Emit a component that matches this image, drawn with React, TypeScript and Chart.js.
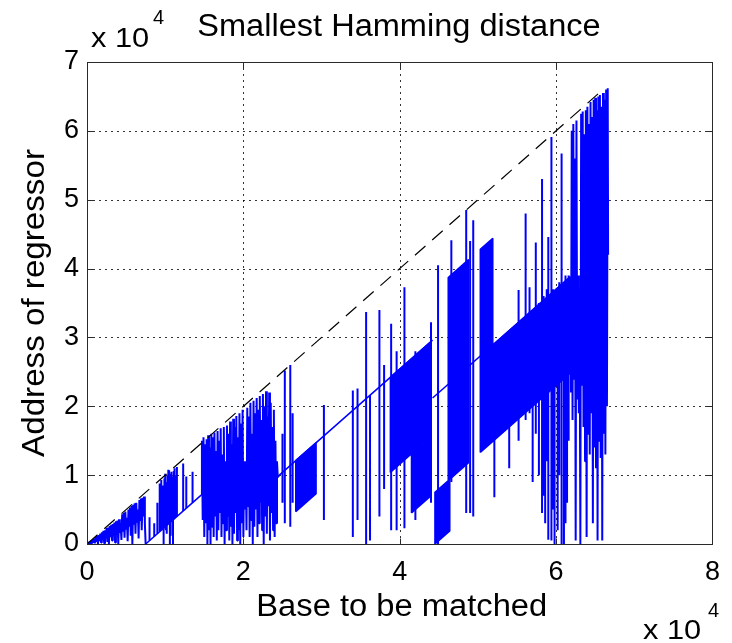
import React, { useEffect, useRef } from "react";
import { Chart, registerables } from "chart.js";

Chart.register(...registerables);

// All values are in units of 10^4.

// Axis ranges and tick steps
const xRange = [0, 8];
const yRange = [0, 7];
const xStep = 2;
const yStep = 1;

// Identity reference line (address == base)
const refX = [0, 6.6];
const refY = [0, 6.6];

// Diagonal runs where the address follows the base with a fixed lag
const runX0 = [0.75, 2.46, 4.42];
const runX1 = [1.46, 4.42, 6.18];
const runY0 = [0.0, 1.0, 2.12];
const runY1 = [0.71, 2.96, 3.88];

// Densely oscillating stretches, drawn as solid bands between two lag lines
const bandX0 = [2.67, 3.88, 4.15, 4.45, 4.62, 5.03, 5.19];
const bandX1 = [2.93, 4.39, 4.39, 4.64, 4.88, 5.19, 6.18];
const bandTop0 = [1.21, 2.42, 1.31, 0.75, 3.87, 4.28, 2.89];
const bandTop1 = [1.47, 2.93, 1.55, 0.94, 4.13, 4.44, 3.88];
const bandBot0 = [0.47, 1.04, 0.45, 0.0, 0.92, 1.33, 1.49];
const bandBot1 = [0.73, 1.55, 0.69, 0.19, 1.18, 1.49, 2.48];

// Early segment: base 0 .. 0.75
const trace1X = [
  0.0, 0.01, 0.02, 0.03, 0.04, 0.05, 0.06, 0.07, 0.08, 0.09,
  0.1, 0.11, 0.12, 0.13, 0.14, 0.15, 0.16, 0.17, 0.18, 0.19,
  0.2, 0.21, 0.22, 0.23, 0.24, 0.25, 0.26, 0.27, 0.28, 0.29,
  0.3, 0.31, 0.32, 0.33, 0.34, 0.35, 0.36, 0.37, 0.38, 0.39,
  0.4, 0.41, 0.42, 0.43, 0.44, 0.45, 0.46, 0.47, 0.48, 0.49,
  0.5, 0.51, 0.52, 0.53, 0.54, 0.55, 0.56, 0.57, 0.58, 0.59,
  0.6, 0.61, 0.62, 0.63, 0.64, 0.65, 0.66, 0.67, 0.68, 0.69,
  0.7, 0.71, 0.72, 0.73, 0.74, 0.75,
];
const trace1Y = [
  0.0, 0.01, 0.0, 0.03, 0.01, 0.05, 0.0, 0.06, 0.02, 0.08,
  0.01, 0.1, 0.03, 0.12, 0.0, 0.13, 0.04, 0.15, 0.02, 0.17,
  0.06, 0.19, 0.01, 0.2, 0.08, 0.23, 0.03, 0.24, 0.0, 0.26,
  0.1, 0.28, 0.05, 0.29, 0.12, 0.31, 0.02, 0.33, 0.14, 0.34,
  0.0, 0.36, 0.16, 0.3, 0.06, 0.43, 0.18, 0.45, 0.09, 0.47,
  0.22, 0.38, 0.04, 0.5, 0.25, 0.53, 0.12, 0.55, 0.0, 0.57,
  0.28, 0.59, 0.15, 0.6, 0.32, 0.5, 0.08, 0.64, 0.35, 0.66,
  0.2, 0.67, 0.4, 0.69, 0.3, 0.0,
];

// Second segment: base 1.46 .. 2.46
const trace2X = [
  1.46, 1.47, 1.48, 1.49, 1.5, 1.51, 1.52, 1.53, 1.54, 1.55,
  1.56, 1.57, 1.58, 1.59, 1.6, 1.61, 1.62, 1.63, 1.64, 1.65,
  1.66, 1.67, 1.68, 1.69, 1.7, 1.71, 1.72, 1.73, 1.74, 1.75,
  1.76, 1.77, 1.78, 1.79, 1.8, 1.81, 1.82, 1.83, 1.84, 1.85,
  1.86, 1.87, 1.88, 1.89, 1.9, 1.91, 1.92, 1.93, 1.94, 1.95,
  1.96, 1.97, 1.98, 1.99, 2.0, 2.01, 2.02, 2.03, 2.04, 2.05,
  2.06, 2.07, 2.08, 2.09, 2.1, 2.11, 2.12, 2.13, 2.14, 2.15,
  2.16, 2.17, 2.18, 2.19, 2.2, 2.21, 2.22, 2.23, 2.24, 2.25,
  2.26, 2.27, 2.28, 2.29, 2.3, 2.31, 2.32, 2.33, 2.34, 2.35,
  2.36, 2.37, 2.38, 2.39, 2.4, 2.41, 2.42, 2.43, 2.44, 2.46,
];
const trace2Y = [
  0.71, 1.5, 0.35, 1.55, 0.1, 1.45, 0.3, 1.52, 0.0, 1.58,
  0.2, 1.4, 0.0, 1.6, 0.25, 1.55, 0.1, 1.62, 0.4, 1.35,
  0.05, 1.64, 0.2, 1.5, 0.45, 1.68, 0.1, 1.3, 0.3, 1.7,
  0.0, 1.2, 0.2, 1.72, 0.4, 1.6, 0.05, 1.78, 0.25, 1.45,
  0.0, 1.82, 0.15, 1.7, 0.45, 1.86, 0.05, 1.55, 0.2, 1.9,
  0.0, 1.75, 0.3, 1.95, 0.1, 1.2, 0.5, 1.1, 0.2, 1.98,
  0.55, 1.85, 0.1, 2.05, 0.35, 1.6, 0.0, 2.08, 0.25, 1.9,
  0.5, 2.12, 0.1, 1.95, 0.3, 2.15, 0.6, 1.8, 0.2, 2.18,
  0.0, 2.0, 0.4, 2.22, 0.15, 1.85, 0.55, 2.2, 0.05, 2.05,
  0.45, 1.7, 0.2, 1.95, 0.1, 1.5, 0.3, 1.2, 0.97, 1.0,
];

// Final segment: base 6.18 .. 6.66
const trace3X = [
  6.18, 6.19, 6.2, 6.21, 6.22, 6.23, 6.24, 6.25, 6.26, 6.27,
  6.28, 6.29, 6.3, 6.31, 6.32, 6.33, 6.34, 6.35, 6.36, 6.37,
  6.38, 6.39, 6.4, 6.41, 6.42, 6.43, 6.44, 6.45, 6.46, 6.47,
  6.48, 6.49, 6.5, 6.51, 6.52, 6.53, 6.54, 6.55, 6.56, 6.57,
  6.58, 6.59, 6.6, 6.61, 6.62, 6.63, 6.64, 6.65, 6.66, 6.665,
];
const trace3Y = [
  3.88, 2.2, 6.0, 1.8, 6.1, 2.4, 5.6, 0.05, 6.15, 2.1,
  3.9, 1.9, 3.7, 0.0, 6.25, 2.3, 6.28, 1.7, 5.95, 1.2,
  6.3, 0.1, 6.35, 1.6, 6.1, 1.3, 6.42, 1.9, 6.2, 0.3,
  6.45, 1.4, 6.48, 1.1, 6.3, 0.05, 6.5, 1.5, 6.52, 1.25,
  6.35, 0.05, 6.55, 1.6, 6.45, 1.3, 6.6, 2.0, 6.62, 4.2,
];

// Isolated excursions: base position, lowest and highest address reached
const spikeX = [
  0.8, 0.86, 0.9, 0.93, 0.95, 0.97, 0.98, 0.99, 1.0, 1.01,
  1.02, 1.03, 1.04, 1.05, 1.06, 1.07, 1.08, 1.09, 1.1, 1.11,
  1.12, 1.13, 1.15, 1.23, 1.27, 1.35, 2.5, 2.53, 2.6, 2.63,
  3.03, 3.4, 3.46, 3.57, 3.62, 3.74, 3.8, 3.89, 3.96, 4.06,
  4.2, 4.4, 4.49, 4.66, 4.85, 4.9, 4.94, 5.21, 5.4, 5.52,
  5.61, 5.66, 5.7, 5.74, 5.78, 5.82, 5.84, 5.86, 5.88, 5.9,
  5.94, 5.96, 5.98, 6.02, 6.04, 6.07, 6.1, 6.12, 6.14, 6.16,
];
const spikeLo = [
  0.05, 0.11, 0.15, 0.18, 0.2, 0.22, 0.0, 0.3, 0.25, 0.2,
  0.15, 0.35, 0.29, 0.3, 0.0, 0.12, 0.33, 0.34, 0.0, 0.36,
  0.37, 0.38, 0.4, 0.48, 0.52, 0.6, 0.6, 0.3, 0.25, 0.6,
  0.35, 0.1, 0.35, 0.0, 0.05, 0.4, 0.8, 0.2, 0.2, 0.23,
  0.35, 0.6, 0.0, 0.9, 0.45, 0.45, 0.4, 0.68, 1.1, 1.5,
  1.8, 1.9, 0.9, 1.6, 1.0, 0.45, 0.7, 0.3, 1.2, 0.06,
  0.05, 0.5, 0.0, 0.2, 1.0, 0.0, 0.0, 0.3, 0.6, 1.5,
];
const spikeHi = [
  0.39, 0.3, 0.6, 0.88, 0.93, 0.85, 0.7, 0.95, 1.02, 0.9,
  0.85, 1.0, 1.08, 1.07, 0.95, 1.02, 1.05, 0.98, 0.6, 1.06,
  1.1, 1.0, 1.12, 1.17, 0.98, 1.05, 1.6, 2.52, 2.6, 1.9,
  2.02, 2.23, 2.26, 3.37, 2.16, 3.4, 2.6, 3.2, 2.8, 3.73,
  2.8, 3.22, 4.05, 4.41, 4.85, 4.4, 4.7, 2.9, 3.1, 3.69,
  4.8, 3.73, 3.4, 4.38, 3.5, 5.3, 3.6, 3.5, 3.7, 4.46,
  5.91, 3.7, 3.6, 3.7, 3.8, 5.67, 3.8, 3.9, 3.8, 3.9,
];

type Pt = { x: number | null; y: number | null };
const GAP: Pt = { x: null, y: null };

function zip(xs: number[], ys: number[]): Pt[] {
  return xs.map((x, i) => ({ x, y: ys[i] }));
}

function runs(): Pt[] {
  const out: Pt[] = [];
  runX0.forEach((x0, i) => {
    out.push({ x: x0, y: runY0[i] }, { x: runX1[i], y: runY1[i] }, GAP);
  });
  return out;
}

function bands(): Pt[] {
  const out: Pt[] = [];
  bandX0.forEach((x0, i) => {
    const x1 = bandX1[i];
    out.push(
      { x: x0, y: bandBot0[i] },
      { x: x1, y: bandBot1[i] },
      { x: x1, y: bandTop1[i] },
      { x: x0, y: bandTop0[i] },
      { x: x0, y: bandBot0[i] },
      GAP
    );
  });
  return out;
}

function traces(): Pt[] {
  return [
    ...zip(trace1X, trace1Y),
    GAP,
    ...zip(trace2X, trace2Y),
    GAP,
    ...zip(trace3X, trace3Y),
  ];
}

function spikes(): Pt[] {
  const out: Pt[] = [];
  spikeX.forEach((x, i) => {
    out.push({ x, y: spikeLo[i] }, { x, y: spikeHi[i] }, GAP);
  });
  return out;
}

const FONT = '"Liberation Sans", Arial, Helvetica, sans-serif';
const BLUE = "#0000ff";

// Text drawn slightly wider than the font's natural width.
function wideText(ctx: CanvasRenderingContext2D, text: string, x: number, y: number, sx: number, angle = 0) {
  ctx.save();
  ctx.translate(x, y);
  if (angle) ctx.rotate(angle);
  ctx.scale(sx, 1);
  ctx.fillText(text, 0, 0);
  ctx.restore();
}

// Dotted grid under the data, box with inward ticks over it, and the
// title / axis labels / exponent notes around the axes.
const framePlugin = {
  id: "frame",
  beforeDatasetsDraw(chart: any) {
    const { ctx, chartArea: a, scales } = chart;
    const xs = scales.x;
    const ys = scales.y;
    ctx.save();
    ctx.strokeStyle = "rgba(0,0,0,0.8)";
    ctx.lineWidth = 1;
    ctx.setLineDash([2, 4]);
    for (const t of xs.ticks) {
      if (t.value <= xRange[0] || t.value >= xRange[1]) continue;
      const px = Math.round(xs.getPixelForValue(t.value)) + 0.5;
      ctx.beginPath();
      ctx.moveTo(px, a.top);
      ctx.lineTo(px, a.bottom);
      ctx.stroke();
    }
    for (const t of ys.ticks) {
      if (t.value <= yRange[0] || t.value >= yRange[1]) continue;
      const py = Math.round(ys.getPixelForValue(t.value)) + 0.5;
      ctx.beginPath();
      ctx.moveTo(a.left, py);
      ctx.lineTo(a.right, py);
      ctx.stroke();
    }
    ctx.restore();
  },
  afterDatasetsDraw(chart: any) {
    const { ctx, chartArea: a, scales } = chart;
    const xs = scales.x;
    const ys = scales.y;
    const L = Math.round(a.left) + 0.5;
    const R = Math.round(a.right) + 0.5;
    const T = Math.round(a.top) + 0.5;
    const B = Math.round(a.bottom) + 0.5;
    ctx.save();
    ctx.strokeStyle = "#2a2a2a";
    ctx.lineWidth = 1;
    ctx.setLineDash([]);
    ctx.strokeRect(L, T, R - L, B - T);
    const tick = 6;
    ctx.beginPath();
    for (const t of xs.ticks) {
      const px = Math.round(xs.getPixelForValue(t.value)) + 0.5;
      ctx.moveTo(px, B);
      ctx.lineTo(px, B - tick);
      ctx.moveTo(px, T);
      ctx.lineTo(px, T + tick);
    }
    for (const t of ys.ticks) {
      const py = Math.round(ys.getPixelForValue(t.value)) + 0.5;
      ctx.moveTo(L, py);
      ctx.lineTo(L + tick, py);
      ctx.moveTo(R, py);
      ctx.lineTo(R - tick, py);
    }
    ctx.stroke();
    ctx.restore();
  },
  afterDraw(chart: any) {
    const { ctx, chartArea: a } = chart;
    ctx.save();
    ctx.fillStyle = "#000";
    ctx.font = `31px ${FONT}`;
    ctx.textAlign = "center";
    ctx.textBaseline = "middle";
    wideText(ctx, "Smallest Hamming distance", 399, 27, 1.05);
    wideText(ctx, "Base to be matched", (a.left + a.right) / 2 + 2, 607, 1.055);
    wideText(ctx, "Address of regressor", 35, (a.top + a.bottom) / 2, 1.07, -Math.PI / 2);
    ctx.textAlign = "left";
    ctx.textBaseline = "alphabetic";
    ctx.font = `28px ${FONT}`;
    wideText(ctx, "x 10", 91, 47, 1.1);
    wideText(ctx, "x 10", 643, 639, 1.1);
    ctx.font = `20px ${FONT}`;
    ctx.fillText("4", 153, 24);
    ctx.fillText("4", 708, 617);
    ctx.restore();
  },
};

export default function App() {
  const canvasRef = useRef<HTMLCanvasElement | null>(null);

  useEffect(() => {
    const canvas = canvasRef.current;
    if (!canvas) return;
    const line = {
      showLine: true,
      pointRadius: 0,
      pointHoverRadius: 0,
      borderWidth: 2,
      spanGaps: false,
      borderJoinStyle: "bevel" as const,
    };
    const chart = new Chart(canvas, {
      type: "scatter",
      data: {
        datasets: [
          {
            ...line,
            label: "identity",
            data: zip(refX, refY),
            borderColor: "#000",
            borderWidth: 1.2,
            borderDash: [14, 9],
          },
          {
            ...line,
            label: "excursions",
            data: spikes(),
            borderColor: BLUE,
          },
          {
            ...line,
            label: "oscillation",
            data: traces(),
            borderColor: BLUE,
          },
          {
            ...line,
            label: "bands",
            data: bands(),
            borderColor: BLUE,
            backgroundColor: BLUE,
            borderWidth: 1.5,
            fill: "shape",
          },
          {
            ...line,
            label: "runs",
            data: runs(),
            borderColor: BLUE,
            borderWidth: 1.5,
          },
        ] as any,
      },
      options: {
        responsive: false,
        animation: false,
        devicePixelRatio: 1,
        events: [],
        layout: { padding: { top: 62, right: 16, bottom: 0, left: 0 } },
        plugins: {
          legend: { display: false },
          tooltip: { enabled: false },
          title: { display: false },
        },
        scales: {
          x: {
            type: "linear",
            min: xRange[0],
            max: xRange[1],
            grid: { display: false, drawTicks: false },
            border: { display: false },
            ticks: {
              stepSize: xStep,
              color: "#000",
              padding: 12,
              font: { family: FONT, size: 27 },
              maxRotation: 0,
            },
            afterFit: (s: any) => {
              s.height = 99;
            },
          },
          y: {
            type: "linear",
            min: yRange[0],
            max: yRange[1],
            grid: { display: false, drawTicks: false },
            border: { display: false },
            ticks: {
              stepSize: yStep,
              color: "#000",
              padding: 8,
              font: { family: FONT, size: 27 },
            },
            afterFit: (s: any) => {
              s.width = 87;
            },
          },
        },
      } as any,
      plugins: [framePlugin],
    });
    return () => chart.destroy();
  }, []);

  return (
    <div
      style={{
        position: "fixed",
        left: 0,
        top: 0,
        width: 732,
        height: 643,
        background: "#fff",
      }}
    >
      <canvas
        ref={canvasRef}
        width={732}
        height={643}
        style={{ display: "block", width: 732, height: 643 }}
      />
    </div>
  );
}
